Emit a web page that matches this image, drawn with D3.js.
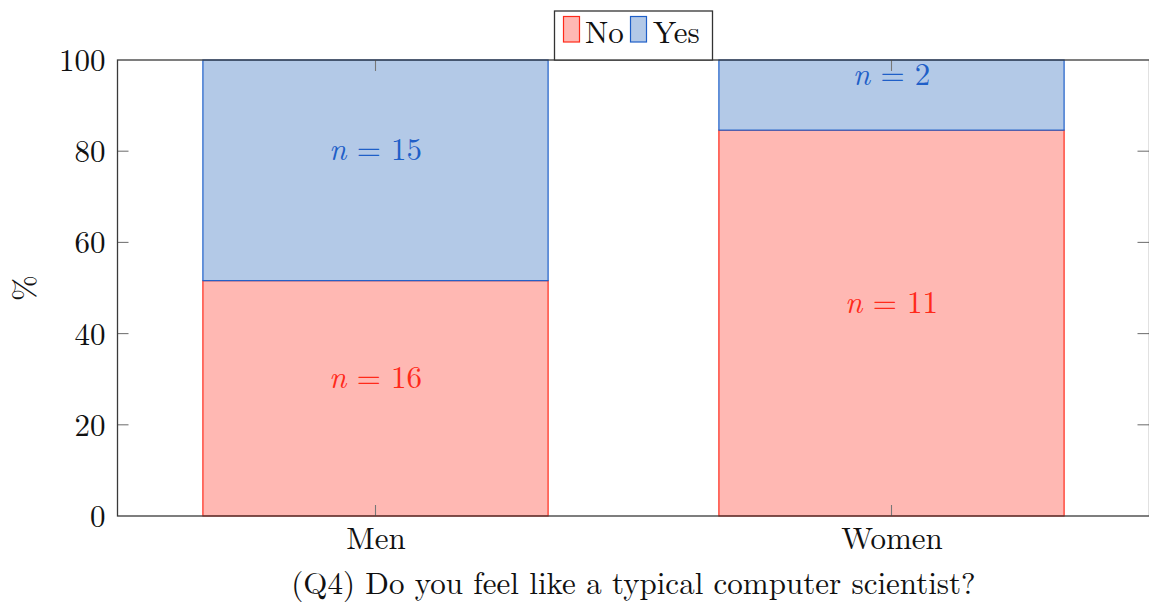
<!DOCTYPE html>
<html>
<head>
<meta charset="utf-8">
<script src="https://cdn.jsdelivr.net/npm/d3@7"></script>
<style>
  html, body { margin: 0; padding: 0; background: #fff; }
  svg { display: block; }
</style>
</head>
<body>
<svg id="chart" width="1149" height="605"></svg>
<script>
// Survey answers: counts per group and answer
const groups = ["Men", "Women"];
const answers = ["No", "Yes"];
const countsNo = [16, 11];
const countsYes = [15, 2];
const yTicks = [0, 20, 40, 60, 80, 100];
const title = "(Q4) Do you feel like a typical computer scientist?";
const yLabel = "%";

const FONT = "'Latin Modern Roman', 'CMU Serif', 'Liberation Serif', serif";
const FS = 31;

const colors = {
  No:  { fill: "#ffb8b3", stroke: "#ff2a1a", text: "#ff2a1a" },
  Yes: { fill: "#b3c9e7", stroke: "#1f5fc8", text: "#1f5fc8" }
};

const svg = d3.select("#chart").attr("font-family", FONT);
const plot = { left: 117.5, right: 1149.5, top: 60, bottom: 516 };

// Category positions on an index axis, padded by half a step each side
const x = d3.scaleLinear().domain([-0.5, groups.length - 0.5]).range([plot.left, plot.right]);
const y = d3.scaleLinear().domain([0, 100]).range([plot.bottom, plot.top]);
const barWidth = 0.669; // in category units

// Stack percentages
const rows = groups.map((g, i) => {
  const total = countsNo[i] + countsYes[i];
  return { i, No: countsNo[i], Yes: countsYes[i], pNo: 100 * countsNo[i] / total, pYes: 100 * countsYes[i] / total };
});
const segments = [];
rows.forEach(r => {
  segments.push({ key: "No", i: r.i, y0: 0, y1: r.pNo, n: r.No });
  segments.push({ key: "Yes", i: r.i, y0: r.pNo, y1: r.pNo + r.pYes, n: r.Yes });
});

const g = svg.append("g");

// Bars
g.selectAll("rect.bar").data(segments).enter().append("rect")
  .attr("class", "bar")
  .attr("x", d => x(d.i - barWidth / 2))
  .attr("width", d => x(d.i + barWidth / 2) - x(d.i - barWidth / 2))
  .attr("y", d => y(d.y1))
  .attr("height", d => y(d.y0) - y(d.y1))
  .attr("fill", d => colors[d.key].fill)
  .attr("stroke", d => colors[d.key].stroke)
  .attr("stroke-width", 1.2);

// Axes
const tickLen = 11;
const axisColor = "#3a3a3a";
const yAxis = d3.axisLeft(y).tickValues(yTicks).tickSize(0).tickPadding(12);
const yg = g.append("g").attr("transform", `translate(${plot.left},0)`).call(yAxis);
yg.attr("font-family", FONT).attr("font-size", FS);
yg.select(".domain").remove();
yg.selectAll("text").attr("dy", "0.34em").attr("fill", "#111");

const xAxis = d3.axisBottom(x).tickValues(groups.map((_, i) => i)).tickFormat(i => groups[i]).tickSize(0).tickPadding(11);
const xg = g.append("g").attr("transform", `translate(0,${plot.bottom})`).call(xAxis);
xg.attr("font-family", FONT).attr("font-size", FS);
xg.select(".domain").remove();
xg.selectAll("text").attr("dy", "0.71em").attr("fill", "#111");

// Inward tick marks on all four sides
const ticks = g.append("g").attr("stroke", "#777").attr("stroke-width", 1.1);
yTicks.filter(t => t > 0 && t < 100).forEach(t => {
  ticks.append("line").attr("x1", plot.left).attr("x2", plot.left + tickLen).attr("y1", y(t)).attr("y2", y(t));
  ticks.append("line").attr("x1", plot.right - tickLen - 1).attr("x2", plot.right).attr("y1", y(t)).attr("y2", y(t));
});
groups.forEach((_, i) => {
  ticks.append("line").attr("x1", x(i)).attr("x2", x(i)).attr("y1", plot.bottom).attr("y2", plot.bottom - tickLen);
  ticks.append("line").attr("x1", x(i)).attr("x2", x(i)).attr("y1", plot.top).attr("y2", plot.top + tickLen);
});

// Count labels inside segments
const labels = g.selectAll("text.nlab").data(segments).enter().append("text")
  .attr("class", "nlab")
  .attr("x", d => x(d.i))
  .attr("y", d => (y(d.y0) + y(d.y1)) / 2 - 10.5)
  .attr("text-anchor", "middle")
  .attr("font-size", FS)
  .attr("fill", d => colors[d.key].text);
labels.append("tspan").attr("font-style", "italic").text("n");
labels.append("tspan").text(d => " = " + d.n);

// Frame
g.append("rect")
  .attr("x", plot.left).attr("y", plot.top)
  .attr("width", plot.right - plot.left).attr("height", plot.bottom - plot.top)
  .attr("fill", "none").attr("stroke", axisColor).attr("stroke-width", 1.3);

// Axis titles
g.append("text")
  .attr("transform", `translate(35,${(plot.top + plot.bottom) / 2}) rotate(-90)`)
  .attr("text-anchor", "middle").attr("font-size", FS).attr("fill", "#111").text(yLabel);
g.append("text")
  .attr("x", (plot.left + plot.right) / 2).attr("y", 594)
  .attr("text-anchor", "middle").attr("font-size", FS).attr("fill", "#111").text(title);

// Legend
const leg = g.append("g");
leg.append("rect").attr("x", 554.5).attr("y", 11).attr("width", 158).attr("height", 49)
  .attr("fill", "#fff").attr("stroke", "#333").attr("stroke-width", 1.3);
const legItems = [{ key: "No", sx: 563.5, tx: 585 }, { key: "Yes", sx: 630.5, tx: 653 }];
legItems.forEach(it => {
  leg.append("rect").attr("x", it.sx).attr("y", 16.5).attr("width", 16).attr("height", 25.5)
    .attr("fill", colors[it.key].fill).attr("stroke", colors[it.key].stroke).attr("stroke-width", 1.2);
  leg.append("text").attr("x", it.tx).attr("y", 43).attr("font-size", FS).attr("fill", "#111").text(it.key);
});
</script>
</body>
</html>
